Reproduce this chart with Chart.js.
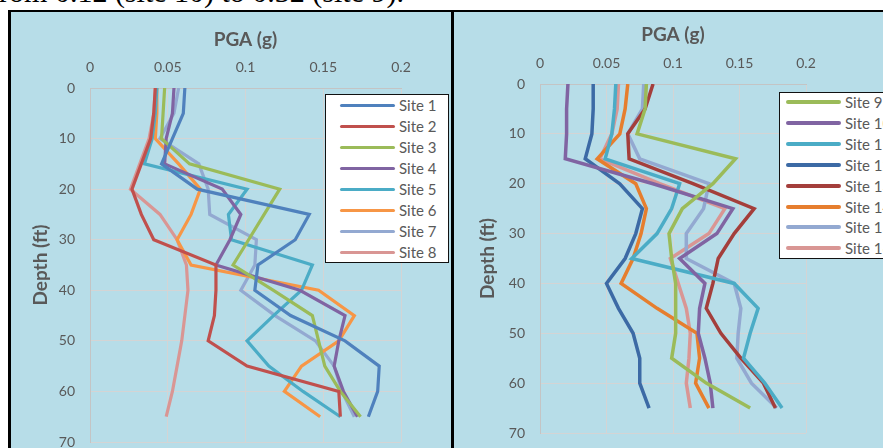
<!DOCTYPE html>
<html>
<head>
<meta charset="utf-8">
<script src="https://cdn.jsdelivr.net/npm/chart.js@4.4.1/dist/chart.umd.min.js"></script>
<style>
  body { margin: 0; width: 883px; height: 448px; overflow: hidden; background: #fff; position: relative; }
  .topline { position: absolute; right: 479px; top: -23px; white-space: nowrap; font: 30px "Liberation Serif"; line-height: 30px; color: #000; }
  .box { position: absolute; top: 10px; height: 460px; background: #b7dde8; border-top: 2px solid #000; border-left: 3px solid #000; }
  #boxLeft { left: 8px; width: 440px; }
  #boxRight { left: 451px; width: 440px; }
  canvas { position: absolute; }
  .legend { position: absolute; background: #fff; border: 1px solid #111; font-family: Lato; font-size: 15px; color: #595959; }
  .legend .row { position: absolute; height: 20px; white-space: nowrap; }
  .legend .swatch { position: absolute; top: 9px; width: 55px; border-radius: 2px; }
  .legend .txt { position: absolute; top: 1px; line-height: 18px; }
</style>
</head>
<body>
<div class="topline">from 0.12 (site 10) to 0.32 (site 9).</div>
<div class="box" id="boxLeft"></div>
<div class="box" id="boxRight"></div>
<canvas id="chartLeft" width="438" height="460" style="left:11px; top:12px;"></canvas>
<canvas id="chartRight" width="440" height="460" style="left:454px; top:12px;"></canvas>
<div class="legend" id="legendLeft" style="left:325px; top:94px; width:122px; height:167px;"></div>
<div class="legend" id="legendRight" style="left:779px; top:92px; width:130px; height:165px;"></div>

<script>
// depth of each reading (ft)
const depths = [0, 5, 10, 15, 20, 25, 30, 35, 40, 45, 50, 55, 60, 65];

// PGA (g) at each depth
const site1 = [0.061, 0.060, 0.053, 0.046, 0.069, 0.141, 0.132, 0.108, 0.106, 0.129, 0.164, 0.186, 0.185, 0.179];
const site2 = [0.042, 0.041, 0.039, 0.033, 0.027, 0.033, 0.041, 0.081, 0.081, 0.080, 0.076, 0.101, 0.160, 0.161];
const site3 = [0.048, 0.047, 0.046, 0.064, 0.122, 0.112, 0.102, 0.092, 0.118, 0.143, 0.147, 0.151, 0.161, 0.174];
const site4 = [0.054, 0.053, 0.049, 0.048, 0.085, 0.097, 0.090, 0.081, 0.135, 0.164, 0.160, 0.157, 0.163, 0.172];
const site5 = [0.043, 0.042, 0.040, 0.035, 0.101, 0.089, 0.091, 0.143, 0.136, 0.118, 0.101, 0.115, 0.137, 0.161];
const site6 = [0.043, 0.043, 0.042, 0.057, 0.071, 0.065, 0.056, 0.065, 0.147, 0.170, 0.160, 0.136, 0.125, 0.148];
const site7 = [0.057, 0.054, 0.045, 0.070, 0.076, 0.077, 0.107, 0.106, 0.097, 0.119, 0.145, 0.157, 0.162, 0.170];
const site8 = [0.042, 0.041, 0.038, 0.032, 0.026, 0.045, 0.056, 0.062, 0.063, 0.061, 0.059, 0.056, 0.053, 0.049];

const site9 = [0.080, 0.079, 0.073, 0.147, 0.130, 0.107, 0.097, 0.099, 0.102, 0.102, 0.102, 0.099, 0.125, 0.158];
const site10 = [0.021, 0.020, 0.020, 0.019, 0.085, 0.145, 0.133, 0.105, 0.124, 0.120, 0.119, 0.124, 0.128, 0.130];
const site11 = [0.057, 0.056, 0.054, 0.049, 0.105, 0.099, 0.088, 0.069, 0.146, 0.164, 0.158, 0.153, 0.169, 0.182];
const site12 = [0.040, 0.040, 0.039, 0.034, 0.060, 0.077, 0.072, 0.064, 0.050, 0.059, 0.070, 0.075, 0.075, 0.082];
const site13 = [0.085, 0.079, 0.066, 0.067, 0.115, 0.161, 0.146, 0.134, 0.130, 0.125, 0.136, 0.151, 0.168, 0.177];
const site14 = [0.066, 0.064, 0.060, 0.043, 0.072, 0.080, 0.076, 0.070, 0.061, 0.088, 0.118, 0.120, 0.117, 0.127];
const site15 = [0.078, 0.077, 0.066, 0.075, 0.127, 0.123, 0.110, 0.110, 0.146, 0.151, 0.149, 0.148, 0.159, 0.178];
const site16 = [0.059, 0.058, 0.054, 0.045, 0.090, 0.139, 0.127, 0.098, 0.104, 0.110, 0.113, 0.112, 0.110, 0.113];

const leftLabels = ["Site 1", "Site 2", "Site 3", "Site 4", "Site 5", "Site 6", "Site 7", "Site 8"];
const rightLabels = ["Site 9", "Site 10", "Site 11", "Site 12", "Site 13", "Site 14", "Site 15", "Site 16"];
const leftSeries = [site1, site2, site3, site4, site5, site6, site7, site8];
const rightSeries = [site9, site10, site11, site12, site13, site14, site15, site16];

const pgaTicks = [0, 0.05, 0.1, 0.15, 0.2];
const depthTicks = [0, 10, 20, 30, 40, 50, 60, 70];

const leftColors = ["#4f81bd", "#c0504d", "#9bbb59", "#8064a2", "#4bacc6", "#f79646", "#93a9d1", "#d99694"];
const rightColors = ["#9bbb59", "#8064a2", "#4bacc6", "#3c6aa5", "#a43e3b", "#e67e2e", "#93a9d1", "#d99694"];

const grey = "#595959";

const makeChart = (canvasId, labels, series, colors, lay) => {
    const datasets = labels.map((label, i) => ({
        label: label,
        data: series[i].map((v, j) => ({ x: v, y: depths[j] })),
        borderColor: colors[i],
        backgroundColor: colors[i],
        borderWidth: lay.lineWidth,
        pointRadius: 0,
        showLine: true,
        fill: false,
        tension: 0
    }));

    const config = {
        type: "scatter",
        data: { datasets },
        options: {
            responsive: false,
            animation: false,
            layout: { padding: lay.padding },
            plugins: { legend: { display: false }, tooltip: { enabled: false } },
            scales: {
                x: {
                    type: "linear",
                    position: "top",
                    min: pgaTicks[0],
                    max: pgaTicks[pgaTicks.length - 1],
                    afterBuildTicks: s => { s.ticks = pgaTicks.map(v => ({ value: v })); },
                    afterFit: s => { s.height = lay.xHeight; },
                    ticks: {
                        padding: lay.xTickPad,
                        color: grey,
                        font: { family: "Lato", size: 14 },
                        callback: v => String(+v.toFixed(2))
                    },
                    grid: { color: "#d4d4d4", lineWidth: 1, drawTicks: false },
                    border: { color: "#c4c4c4" },
                    title: {
                        display: true,
                        text: "PGA (g)",
                        color: grey,
                        font: { family: "Lato", size: 19, weight: "bold" },
                        padding: { top: lay.xTitlePad, bottom: 0 }
                    }
                },
                y: {
                    type: "linear",
                    reverse: true,
                    min: depthTicks[0],
                    max: depthTicks[depthTicks.length - 1],
                    afterBuildTicks: s => { s.ticks = depthTicks.map(v => ({ value: v })); },
                    afterFit: s => { s.width = lay.yWidth; },
                    ticks: {
                        padding: 15,
                        color: grey,
                        font: { family: "Lato", size: 14 }
                    },
                    grid: { color: "#d4d4d4", lineWidth: 1, drawTicks: false },
                    border: { color: "#c4c4c4" },
                    title: {
                        display: true,
                        text: "Depth (ft)",
                        color: grey,
                        font: { family: "Lato", size: 19, weight: "bold" },
                        padding: { top: lay.yTitlePad, bottom: 0 }
                    }
                }
            }
        }
    };

    return new Chart(document.getElementById(canvasId), config);
};

const makeLegend = (divId, labels, colors, lay) => {
    const box = document.getElementById(divId);
    labels.forEach((label, i) => {
        const row = document.createElement("div");
        row.className = "row";
        row.style.top = (lay.firstRow + i * lay.rowStep - 10) + "px";
        row.style.left = "0px";
        row.innerHTML = '<div class="swatch" style="left:' + lay.swatchLeft + 'px; height:' + lay.swatchH +
            'px; margin-top:' + (-lay.swatchH / 2 + 1) + 'px; background:' + colors[i] + '"></div>' +
            '<div class="txt" style="left:' + (lay.swatchLeft + 59) + 'px">' + label + '</div>';
        box.appendChild(row);
    });
};

makeChart("chartLeft", leftLabels, leftSeries, leftColors, {
    lineWidth: 3.2,
    padding: { left: 8, top: 6, right: 48, bottom: 30 },
    yWidth: 71,
    xHeight: 70,
    xTickPad: 12,
    xTitlePad: 10,
    yTitlePad: 10
});

makeChart("chartRight", rightLabels, rightSeries, rightColors, {
    lineWidth: 3.5,
    padding: { left: 8, top: 4, right: 88, bottom: 39 },
    yWidth: 78,
    xHeight: 68,
    xTickPad: 12.5,
    xTitlePad: 7.5,
    yTitlePad: 14.5
});

makeLegend("legendLeft", leftLabels, leftColors, { firstRow: 10, rowStep: 21, swatchLeft: 14, swatchH: 3 });
makeLegend("legendRight", rightLabels, rightColors, { firstRow: 9, rowStep: 20.9, swatchLeft: 6, swatchH: 4 });
</script>
</body>
</html>
